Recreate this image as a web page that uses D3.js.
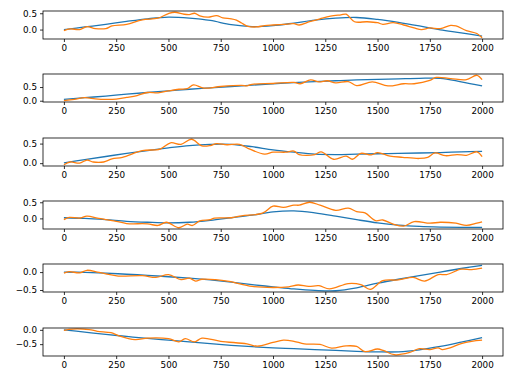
<!DOCTYPE html>
<html>
<head>
<meta charset="utf-8">
<script src="https://cdn.jsdelivr.net/npm/d3@7"></script>
<style>
  body { margin: 0; background: #fff; }
  text { font-family: "DejaVu Sans", sans-serif; font-size: 8.8px; fill: #000; }
</style>
</head>
<body>
<div id="wrapper"></div>
<script>
// Data
const xTicks = [0, 250, 500, 750, 1000, 1250, 1500, 1750, 2000];
const yTicks = [-1, -0.5, 0, 0.5, 1];

const smoothX = [0, 100, 200, 300, 400, 500, 600, 700, 800, 900, 1000,
  1100, 1200, 1300, 1400, 1500, 1600, 1700, 1800, 1900, 2000];

const smooth1 = [0.00, 0.08, 0.16, 0.25, 0.33, 0.38, 0.35, 0.28, 0.15, 0.09, 0.12,
  0.20, 0.29, 0.35, 0.37, 0.31, 0.22, 0.11, -0.01, -0.10, -0.20];
const smooth2 = [0.05, 0.11, 0.17, 0.24, 0.30, 0.36, 0.42, 0.47, 0.52, 0.57, 0.62,
  0.66, 0.70, 0.73, 0.76, 0.78, 0.80, 0.82, 0.82, 0.69, 0.54];
const smooth3 = [0.01, 0.09, 0.17, 0.25, 0.32, 0.39, 0.45, 0.48, 0.48, 0.42, 0.34,
  0.28, 0.23, 0.22, 0.23, 0.24, 0.25, 0.26, 0.27, 0.29, 0.30];
const smooth4 = [0.02, 0.00, -0.04, -0.09, -0.12, -0.14, -0.12, -0.06, 0.02, 0.10, 0.20,
  0.23, 0.17, 0.07, -0.04, -0.14, -0.21, -0.25, -0.27, -0.28, -0.28];
const smooth5 = [0.00, -0.01, -0.03, -0.06, -0.09, -0.13, -0.17, -0.22, -0.28, -0.35, -0.41,
  -0.47, -0.51, -0.52, -0.44, -0.31, -0.20, -0.10, 0.00, 0.10, 0.19];
const smooth6 = [0.00, -0.08, -0.16, -0.23, -0.30, -0.36, -0.42, -0.48, -0.54, -0.59, -0.63,
  -0.66, -0.69, -0.72, -0.75, -0.77, -0.77, -0.70, -0.58, -0.43, -0.27];

const noisy1 = [[0, -0.03], [30, 0.02], [75, 0.0], [110, 0.09], [150, 0.03], [200, 0.03],
  [230, 0.11], [300, 0.16], [375, 0.30], [450, 0.35], [500, 0.49], [530, 0.53],
  [575, 0.47], [600, 0.46], [625, 0.50], [650, 0.42], [690, 0.38], [730, 0.43],
  [760, 0.36], [800, 0.33], [825, 0.29], [850, 0.20], [880, 0.10], [920, 0.08],
  [960, 0.12], [1000, 0.14], [1050, 0.16], [1100, 0.18], [1125, 0.14], [1175, 0.24],
  [1225, 0.33], [1275, 0.41], [1325, 0.45], [1350, 0.47], [1390, 0.24], [1450, 0.24],
  [1500, 0.21], [1525, 0.16], [1575, 0.21], [1625, 0.14], [1675, 0.05], [1710, 0.0],
  [1750, 0.05], [1800, 0.03], [1850, 0.13], [1875, 0.11], [1925, -0.03], [1975, -0.12],
  [2000, -0.25]];
const noisy2 = [[0, 0.0], [50, 0.05], [100, 0.11], [150, 0.07], [200, 0.05], [250, 0.06],
  [300, 0.12], [350, 0.19], [400, 0.30], [450, 0.29], [500, 0.36], [550, 0.42],
  [590, 0.44], [620, 0.58], [670, 0.46], [750, 0.52], [850, 0.56], [875, 0.54],
  [900, 0.60], [1000, 0.63], [1100, 0.67], [1130, 0.62], [1180, 0.76], [1220, 0.69],
  [1260, 0.73], [1300, 0.65], [1360, 0.70], [1400, 0.55], [1475, 0.69], [1550, 0.54],
  [1625, 0.62], [1675, 0.62], [1750, 0.74], [1780, 0.85], [1850, 0.81], [1925, 0.77],
  [1975, 0.93], [2000, 0.77]];
const noisy3 = [[0, -0.04], [30, 0.03], [75, 0.0], [110, 0.08], [140, 0.03], [190, 0.03],
  [230, 0.11], [280, 0.15], [375, 0.32], [460, 0.36], [510, 0.52], [560, 0.48],
  [610, 0.61], [660, 0.44], [700, 0.45], [730, 0.50], [780, 0.47], [840, 0.48],
  [880, 0.38], [960, 0.23], [1000, 0.28], [1060, 0.28], [1100, 0.31], [1125, 0.22],
  [1200, 0.22], [1230, 0.29], [1290, 0.10], [1350, 0.18], [1380, 0.10], [1420, 0.25],
  [1470, 0.21], [1500, 0.27], [1560, 0.18], [1620, 0.15], [1700, 0.12], [1740, 0.15],
  [1775, 0.26], [1825, 0.19], [1880, 0.22], [1925, 0.20], [1975, 0.29], [2000, 0.17]];
const noisy4 = [[0, -0.04], [25, 0.03], [75, 0.01], [110, 0.07], [160, 0.01], [200, -0.04],
  [250, -0.09], [300, -0.16], [400, -0.17], [450, -0.22], [490, -0.12], [550, -0.29],
  [590, -0.18], [615, -0.22], [650, -0.08], [700, -0.04], [720, 0.01], [800, 0.02],
  [850, 0.08], [950, 0.16], [1000, 0.38], [1050, 0.34], [1100, 0.41], [1125, 0.41],
  [1175, 0.50], [1225, 0.41], [1300, 0.25], [1360, 0.32], [1400, 0.21], [1440, 0.17],
  [1490, -0.07], [1525, -0.05], [1575, -0.18], [1625, -0.24], [1675, -0.10],
  [1750, -0.15], [1800, -0.12], [1875, -0.15], [1925, -0.22], [1975, -0.15],
  [2000, -0.11]];
const noisy5 = [[0, -0.03], [25, 0.01], [75, -0.02], [110, 0.05], [160, 0.0], [200, -0.05],
  [260, -0.11], [375, -0.10], [440, -0.15], [500, -0.07], [560, -0.21], [600, -0.17],
  [630, -0.25], [660, -0.20], [725, -0.21], [790, -0.26], [900, -0.40], [1000, -0.43],
  [1075, -0.41], [1120, -0.36], [1170, -0.40], [1220, -0.38], [1270, -0.47],
  [1360, -0.32], [1420, -0.35], [1465, -0.48], [1525, -0.24], [1600, -0.22],
  [1670, -0.15], [1725, -0.25], [1790, -0.07], [1830, -0.07], [1900, 0.08],
  [1950, 0.07], [2000, 0.11]];
const noisy6 = [[0, -0.02], [25, 0.02], [120, 0.01], [160, -0.05], [225, -0.10],
  [260, -0.20], [340, -0.34], [400, -0.29], [500, -0.31], [550, -0.42], [580, -0.31],
  [625, -0.42], [660, -0.29], [750, -0.40], [875, -0.49], [925, -0.57], [1000, -0.44],
  [1050, -0.36], [1100, -0.40], [1150, -0.49], [1225, -0.51], [1280, -0.64],
  [1350, -0.56], [1400, -0.58], [1440, -0.76], [1500, -0.67], [1530, -0.73],
  [1580, -0.87], [1650, -0.80], [1700, -0.66], [1750, -0.69], [1790, -0.63],
  [1810, -0.69], [1850, -0.62], [1900, -0.48], [1950, -0.40], [2000, -0.36]];

const smoothSeries = [smooth1, smooth2, smooth3, smooth4, smooth5, smooth6];
const noisySeries = [noisy1, noisy2, noisy3, noisy4, noisy5, noisy6];

// Dimensions
const width = 512;
const height = 383;
const margin = { left: 43, right: 9 };
const panelTops = [11, 74, 138, 201, 264, 328];
const panelHeight = 28;

const svg = d3.select("#wrapper")
  .append("svg")
  .attr("width", width)
  .attr("height", height);

const xScale = d3.scaleLinear()
  .domain([-100, 2100])
  .range([margin.left, width - margin.right]);

const blue = "#1f77b4";
const orange = "#ff7f0e";

smoothSeries.forEach((smooth, i) => {
  const noisy = noisySeries[i];
  const allY = smooth.concat(noisy.map((d) => d[1]));
  const [lo, hi] = d3.extent(allY);
  const pad = (hi - lo) * 0.05;

  const top = panelTops[i];
  const yScale = d3.scaleLinear()
    .domain([lo - pad, hi + pad])
    .range([top + panelHeight, top]);

  const g = svg.append("g");

  const line = d3.line()
    .x((d) => xScale(d[0]))
    .y((d) => yScale(d[1]))
    .curve(d3.curveCatmullRom.alpha(0.5));

  g.append("path")
    .attr("d", line(smoothX.map((x, j) => [x, smooth[j]])))
    .attr("fill", "none")
    .attr("stroke", blue)
    .attr("stroke-width", 1.3);

  g.append("path")
    .attr("d", line(noisy))
    .attr("fill", "none")
    .attr("stroke", orange)
    .attr("stroke-width", 1.3);

  // axes
  const xAxis = d3.axisBottom(xScale)
    .tickValues(xTicks)
    .tickSize(3)
    .tickPadding(3)
    .tickFormat(d3.format("d"));
  const xAxisGroup = g.append("g")
    .attr("transform", `translate(0, ${top + panelHeight})`)
    .call(xAxis);

  const [d0, d1] = yScale.domain();
  const yAxis = d3.axisLeft(yScale)
    .tickValues(yTicks.filter((t) => t >= d0 && t <= d1))
    .tickSize(3)
    .tickPadding(3)
    .tickFormat(d3.format(".1f"));
  const yAxisGroup = g.append("g")
    .attr("transform", `translate(${margin.left}, 0)`)
    .call(yAxis);

  [xAxisGroup, yAxisGroup].forEach((ax) => {
    ax.select(".domain").remove();
    ax.selectAll("line").attr("stroke", "#000").attr("stroke-width", 0.8);
    ax.selectAll("text").style("font-family", "DejaVu Sans").style("font-size", "8.8px").attr("fill", "#000");
  });

  g.append("rect")
    .attr("x", margin.left)
    .attr("y", top)
    .attr("width", width - margin.right - margin.left)
    .attr("height", panelHeight)
    .attr("fill", "none")
    .attr("stroke", "#000")
    .attr("stroke-width", 0.8);
});
</script>
</body>
</html>
